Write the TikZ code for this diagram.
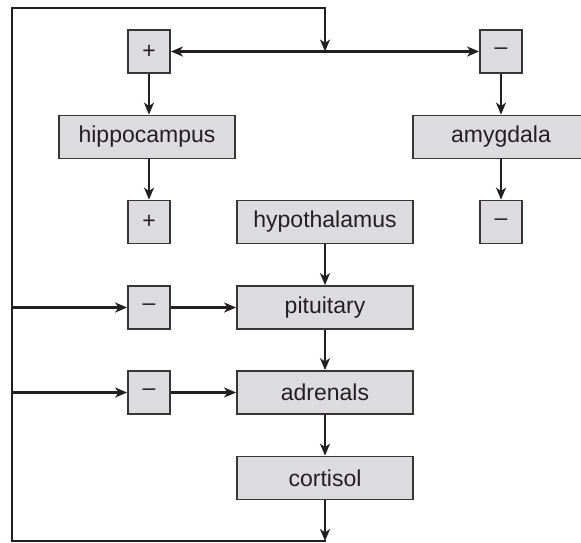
\documentclass[tikz,border=0pt]{standalone}
\usepackage{fontspec}
\setmainfont{Liberation Sans}
\usetikzlibrary{arrows.meta}
\definecolor{boxfill}{HTML}{DCDCDE}
\definecolor{ink}{HTML}{231F20}
\begin{document}
\begin{tikzpicture}[x=1pt,y=-1pt,
  box/.style={draw=ink!90, line width=1.8pt, fill=boxfill, text=ink, inner sep=0pt,
    minimum height=43pt, font=\fontsize{23}{25}\selectfont},
  sbox/.style={box, minimum width=42pt},
  wbox/.style={box, minimum width=176pt},
  conn/.style={draw=ink, line width=2.7pt},
  arr/.style={conn, -{Stealth[length=12pt,width=10pt,inset=3.5pt]}},
  darr/.style={conn, {Stealth[length=12pt,width=10pt,inset=3.5pt]}-{Stealth[length=12pt,width=10pt,inset=3.5pt]}}]
\useasboundingbox (0,0) rectangle (581,542);
% nodes
\node[sbox] (ptop) at (149,51.5) {+};
\node[sbox] (mtop) at (501,51.5) {--};
\node[wbox] (hip) at (147,137) {hippocampus};
\node[wbox] (amy) at (501,137) {amygdala};
\node[sbox] (pbot) at (149,222) {+};
\node[sbox] (mbot) at (501,222) {--};
\node[wbox] (hyp) at (325,222) {hypothalamus};
\node[sbox] (m1) at (149,307.5) {--};
\node[wbox] (pit) at (325,307.5) {pituitary};
\node[sbox] (m2) at (149,392.5) {--};
\node[wbox] (adr) at (325,392.5) {adrenals};
\node[wbox] (cor) at (325,478) {cortisol};
% loop coordinates
\coordinate (bl) at (12,541);
\coordinate (tl) at (12,8);
\coordinate (junc) at (325,51.5);
% connectors
\draw[darr] (ptop) -- (mtop);
\draw[arr] (ptop.south) -- (ptop.south |- hip.north);
\draw[arr] (ptop.south |- hip.south) -- (pbot.north);
\draw[arr] (mtop.south) -- (mtop.south |- amy.north);
\draw[arr] (mtop.south |- amy.south) -- (mbot.north);
\draw[arr] (hyp) -- (pit);
\draw[arr] (pit) -- (adr);
\draw[arr] (adr) -- (cor);
\draw[arr] (cor.south) -- (cor.south |- bl);
\draw[conn, line cap=rect] (cor.south |- bl) -- (bl) -- (tl) -- (tl -| junc);
\draw[arr] (tl -| junc) -- (junc);
\draw[arr] (bl |- m1) -- (m1);
\draw[arr] (m1) -- (pit);
\draw[arr] (bl |- m2) -- (m2);
\draw[arr] (m2) -- (adr);
\end{tikzpicture}
\end{document}
